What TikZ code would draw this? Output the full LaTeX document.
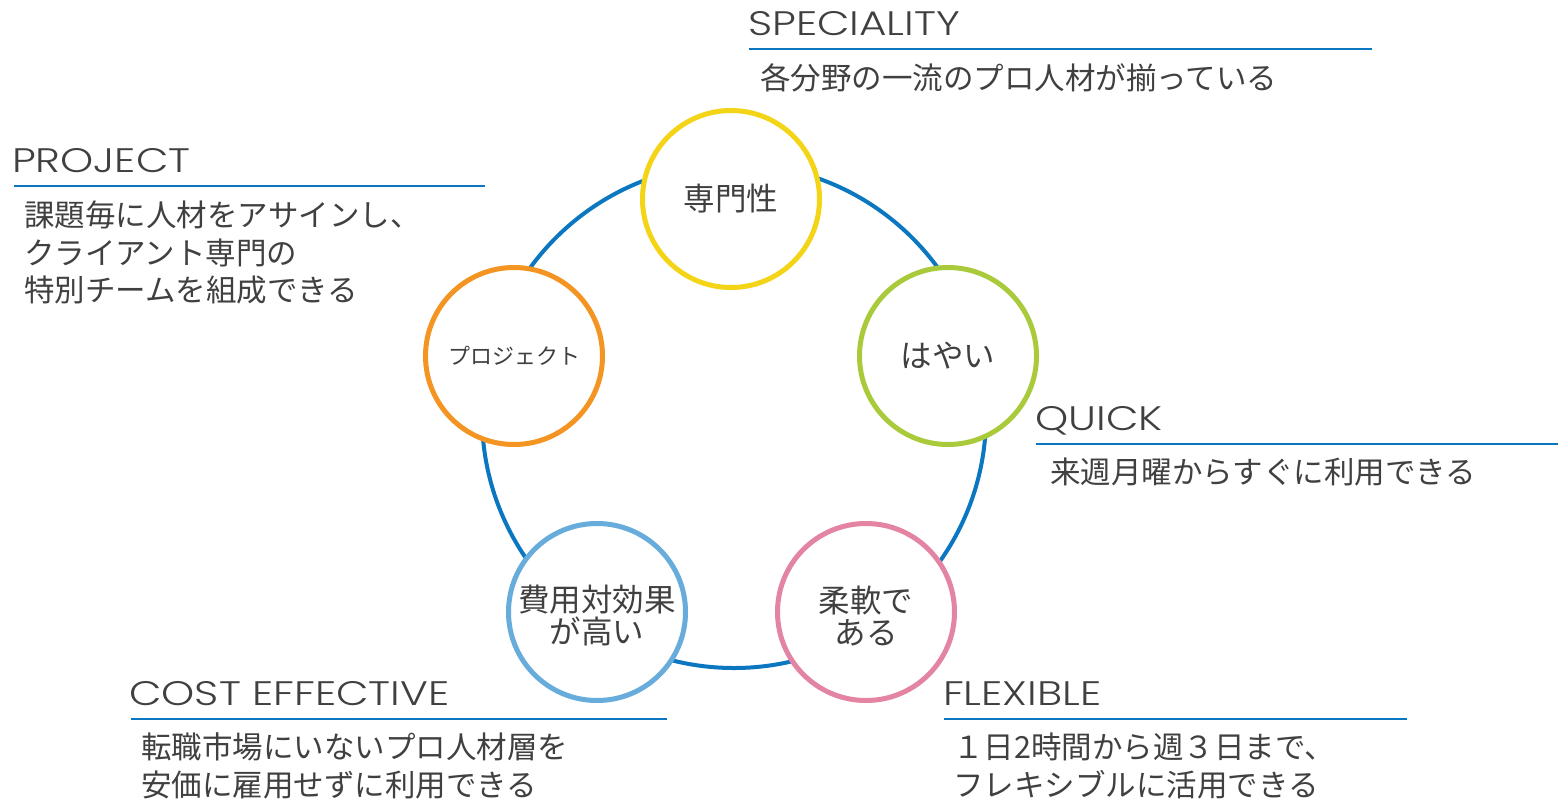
\documentclass[tikz,border=0pt]{standalone}
\usepackage{fontspec}
\setmainfont{Noto Sans CJK JP}
\newfontfamily\jp{Noto Sans CJK JP}
\newfontfamily\en{Poppins Light}[FakeStretch=1.24]
\definecolor{txt}{HTML}{404040}
\definecolor{lineblue}{HTML}{0A77C0}
\definecolor{cyellow}{HTML}{F3D417}
\definecolor{cgreen}{HTML}{A9CB3B}
\definecolor{corange}{HTML}{F39423}
\definecolor{clblue}{HTML}{67ACDB}
\definecolor{cpink}{HTML}{E384A3}
\tikzset{
  head/.style={anchor=base west, inner sep=0, font=\en\fontsize{34}{40}\selectfont, text=txt},
  jtext/.style={anchor=west, inner sep=0, font=\jp\fontsize{30.5}{37.5}\selectfont, text=txt, align=left},
  uline/.style={draw=lineblue, line width=2.5},
  ring/.style={circle, line width=5, fill=white, minimum size=177, inner sep=0, text=txt, align=center, font=\jp\fontsize{31.5}{32}\selectfont},
  ringlabel/.style={inner sep=0, text=txt, align=center, font=\jp\fontsize{31.5}{32}\selectfont, yshift=-4pt},
  bigring/.style={circle, draw=lineblue, line width=4, minimum size=504, inner sep=0}
}
\begin{document}
\begin{tikzpicture}[x=1pt,y=-1pt]
\useasboundingbox[fill=white] (0,0) rectangle (1558,801);
% big ring
\node[bigring] (big) at (734,416) {};
% small rings
\node[ring, draw=cyellow] (spec) at (731,199) {専門性};
\node[ring, draw=cgreen] (quick) at (948,356) {はやい};
\node[ring, draw=corange, font=\jp\fontsize{22}{25}\selectfont] (proj) at (514,356) {プロジェクト};
\node[ring, draw=clblue, label={[ringlabel]center:{費用対効果\\が高い}}] (cost) at (597,612) {};
\node[ring, draw=cpink, label={[ringlabel]center:{柔軟で\\ある}}] (flex) at (866,612) {};
% SPECIALITY
\node[head] (specH) at (748,35) {SPECIALITY};
\draw[uline] (749,49) -- (1372,49);
\node[jtext] (specT) at (760,78) {各分野の一流のプロ人材が揃っている};
% PROJECT
\node[head] (projH) at (12,172) {PROJECT};
\draw[uline] (14,186) -- (485,186);
\node[jtext] (projT) at (24,253) {課題毎に人材をアサインし、\\クライアント専門の\\特別チームを組成できる};
% QUICK
\node[head] (quickH) at (1035,430) {QUICK};
\draw[uline] (1036,444) -- (1558,444);
\node[jtext] (quickT) at (1050,472) {来週月曜からすぐに利用できる};
% COST EFFECTIVE
\node[head] (costH) at (129,705) {COST EFFECTIVE};
\draw[uline] (131,719) -- (667,719);
\node[jtext] (costT) at (141,766) {転職市場にいないプロ人材層を\\安価に雇用せずに利用できる};
% FLEXIBLE
\node[head] (flexH) at (943,705) {FLEXIBLE};
\draw[uline] (944,719) -- (1407,719);
\node[jtext] (flexT) at (953,766) {１日2時間から週３日まで、\\フレキシブルに活用できる};
\end{tikzpicture}
\end{document}
